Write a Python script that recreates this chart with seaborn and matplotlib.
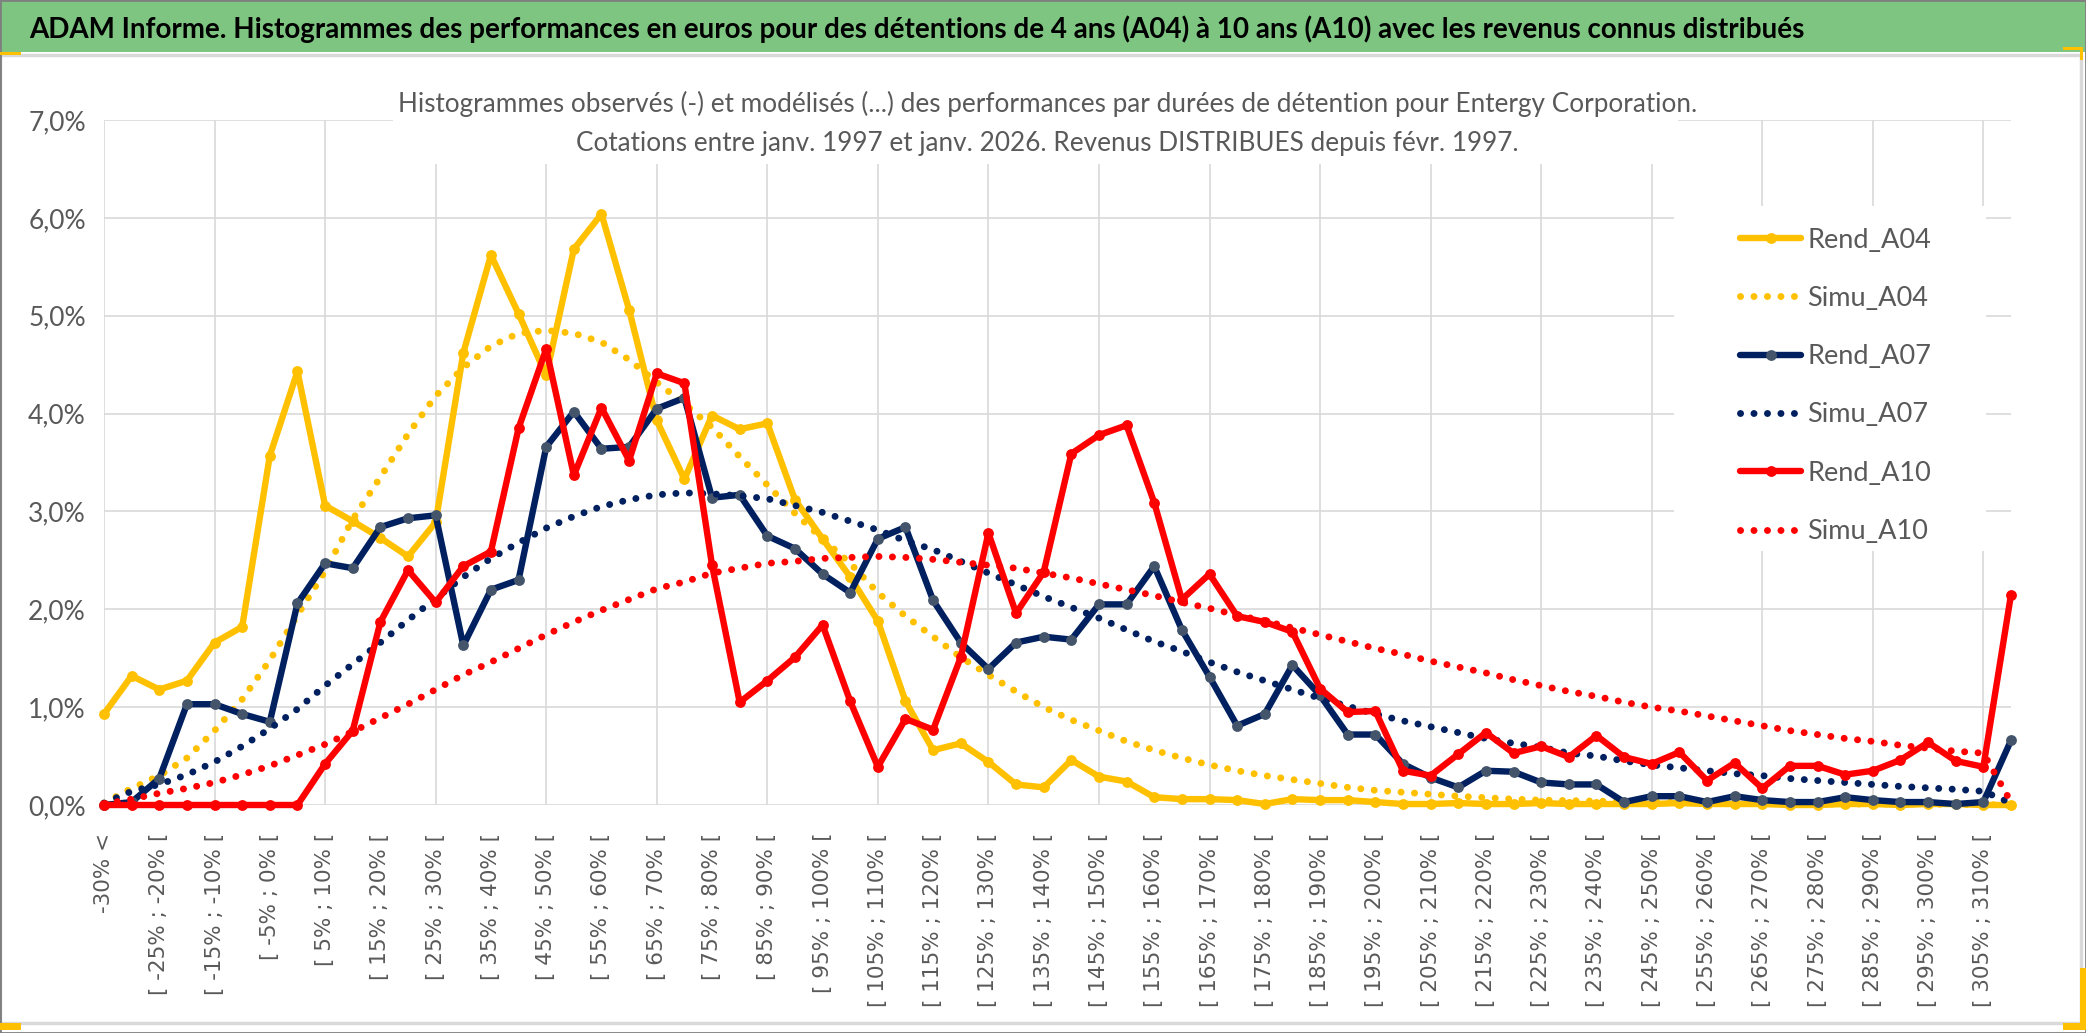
import matplotlib
matplotlib.use("Agg")
import matplotlib.pyplot as plt
from matplotlib.patches import Rectangle
import seaborn as sns
import numpy as np

# categories : classes de performance de 5 %
categories = ["-30% <"] + [f"[ {lo}% ; {lo + 5}% [" for lo in range(-30, 310, 5)] + ["> 310%"]
idx = np.arange(len(categories))

# frequences observees (%)
rend_a04 = [0.93, 1.32, 1.18, 1.27, 1.66, 1.82, 3.57, 4.43, 3.06, 2.90,
            2.73, 2.54, 2.89, 4.62, 5.62, 5.02, 4.39, 5.68, 6.04, 5.06,
            3.93, 3.33, 3.98, 3.84, 3.90, 3.12, 2.72, 2.33, 1.88, 1.06,
            0.56, 0.63, 0.44, 0.21, 0.18, 0.46, 0.29, 0.24, 0.08, 0.06,
            0.06, 0.05, 0.01, 0.06, 0.05, 0.05, 0.03, 0.01, 0.01, 0.02,
            0.01, 0.01, 0.02, 0.01, 0.01, 0.01, 0.01, 0.02, 0.01, 0.01,
            0.01, 0.00, 0.00, 0.01, 0.01, 0.00, 0.01, 0.01, 0.00, 0.00]
rend_a07 = [0.00, 0.03, 0.27, 1.03, 1.03, 0.93, 0.85, 2.06, 2.47, 2.42,
            2.84, 2.93, 2.96, 1.63, 2.20, 2.30, 3.66, 4.02, 3.64, 3.66,
            4.05, 4.16, 3.14, 3.17, 2.75, 2.62, 2.36, 2.17, 2.72, 2.84,
            2.09, 1.66, 1.39, 1.66, 1.72, 1.69, 2.05, 2.05, 2.44, 1.79,
            1.31, 0.81, 0.93, 1.43, 1.12, 0.72, 0.72, 0.42, 0.28, 0.18,
            0.35, 0.34, 0.23, 0.21, 0.21, 0.03, 0.09, 0.09, 0.03, 0.09,
            0.05, 0.03, 0.03, 0.08, 0.05, 0.03, 0.03, 0.01, 0.03, 0.66]
rend_a10 = [0.00, 0.00, 0.00, 0.00, 0.00, 0.00, 0.00, 0.00, 0.42, 0.76,
            1.87, 2.40, 2.07, 2.44, 2.59, 3.85, 4.66, 3.37, 4.06, 3.52,
            4.41, 4.31, 2.45, 1.05, 1.27, 1.51, 1.84, 1.06, 0.39, 0.88,
            0.77, 1.51, 2.78, 1.96, 2.38, 3.59, 3.78, 3.88, 3.09, 2.10,
            2.36, 1.93, 1.87, 1.77, 1.19, 0.95, 0.96, 0.35, 0.30, 0.52,
            0.74, 0.53, 0.60, 0.49, 0.71, 0.49, 0.42, 0.54, 0.25, 0.43,
            0.17, 0.40, 0.40, 0.31, 0.35, 0.46, 0.64, 0.45, 0.39, 2.15]

# frequences modelisees (%)
simu_a04 = [0.02, 0.17, 0.30, 0.48, 0.76, 1.08, 1.48, 1.94, 2.39, 2.92,
            3.35, 3.79, 4.18, 4.47, 4.69, 4.82, 4.85, 4.82, 4.73, 4.55,
            4.32, 4.10, 3.86, 3.56, 3.27, 2.98, 2.72, 2.47, 2.17, 1.93,
            1.72, 1.51, 1.33, 1.16, 1.00, 0.87, 0.76, 0.65, 0.56, 0.48,
            0.41, 0.35, 0.30, 0.26, 0.22, 0.18, 0.15, 0.13, 0.11, 0.09,
            0.075, 0.06, 0.05, 0.045, 0.04, 0.035, 0.03, 0.025, 0.02, 0.02,
            0.015, 0.015, 0.01, 0.01, 0.01, 0.01, 0.01, 0.005, 0.005, 0.0]
simu_a07 = [0.02, 0.14, 0.21, 0.31, 0.44, 0.60, 0.78, 0.98, 1.22, 1.44,
            1.66, 1.89, 2.11, 2.33, 2.52, 2.68, 2.83, 2.95, 3.05, 3.12,
            3.17, 3.19, 3.18, 3.16, 3.13, 3.06, 2.99, 2.90, 2.81, 2.70,
            2.61, 2.49, 2.37, 2.25, 2.13, 2.02, 1.91, 1.79, 1.67, 1.57,
            1.46, 1.36, 1.27, 1.18, 1.09, 1.01, 0.93, 0.86, 0.80, 0.74,
            0.68, 0.63, 0.59, 0.53, 0.50, 0.45, 0.41, 0.38, 0.35, 0.32,
            0.30, 0.27, 0.25, 0.23, 0.21, 0.19, 0.175, 0.16, 0.14, 0.02]
simu_a10 = [0.01, 0.06, 0.12, 0.17, 0.23, 0.31, 0.40, 0.51, 0.62, 0.75,
            0.89, 1.03, 1.18, 1.33, 1.46, 1.60, 1.74, 1.87, 1.99, 2.10,
            2.21, 2.28, 2.37, 2.42, 2.47, 2.49, 2.52, 2.53, 2.54, 2.53,
            2.51, 2.48, 2.45, 2.42, 2.37, 2.32, 2.26, 2.20, 2.14, 2.07,
            2.01, 1.94, 1.88, 1.81, 1.74, 1.67, 1.60, 1.54, 1.47, 1.41,
            1.35, 1.28, 1.22, 1.16, 1.11, 1.05, 1.00, 0.96, 0.91, 0.86,
            0.81, 0.76, 0.72, 0.68, 0.65, 0.61, 0.58, 0.55, 0.53, 0.03]

yticks = list(range(8))
ytick_labels = [f"{v},0%" for v in yticks]

YELLOW, NAVY, RED = "#FFC000", "#002060", "#FF0000"
GREY_TXT, GRID = "#595959", "#D9D9D9"

sns.set_style("white")
plt.rcParams["font.family"] = ["Lato", "DejaVu Sans"]

W, H = 2086, 1033
fig = plt.figure(figsize=(W / 100, H / 100), dpi=100)
ax = fig.add_axes([104 / W, 1 - 805 / H, (2011 - 104) / W, (805 - 120) / H])

series = [
    ("Rend_A04", rend_a04, YELLOW, YELLOW, True),
    ("Simu_A04", simu_a04, YELLOW, None, False),
    ("Rend_A07", rend_a07, NAVY, "#44546A", True),
    ("Simu_A07", simu_a07, NAVY, None, False),
    ("Rend_A10", rend_a10, RED, RED, True),
    ("Simu_A10", simu_a10, RED, None, False),
]
for name, vals, col, mcol, solid in series:
    if solid:
        sns.lineplot(x=idx, y=vals, ax=ax, color=col, lw=4.6, marker="o", ms=7.8,
                     mfc=mcol, mec=mcol, mew=0, label=name, clip_on=False,
                     solid_joinstyle="round")
    else:
        sns.lineplot(x=idx, y=vals, ax=ax, color=col, lw=5.0, linestyle=(0, (0.01, 1.93)),
                     dash_capstyle="round", label=name, clip_on=False)

ax.set_xlim(0, len(categories) - 1)
ax.set_ylim(0, 7)
ax.set_yticks(yticks, labels=ytick_labels)
major = list(range(0, len(categories) - 1, 4))
minor = list(range(2, len(categories) - 1, 4))
ax.set_xticks(major, labels=[categories[i] for i in major], rotation=90,
              fontfamily="DejaVu Sans")
ax.set_xticks(minor, labels=[categories[i] for i in minor], rotation=90,
              fontfamily="DejaVu Sans", minor=True)
ax.tick_params(axis="x", which="major", length=5, width=1.1, color=GRID, pad=15,
               labelsize=15.5, labelcolor=GREY_TXT)
ax.tick_params(axis="x", which="minor", length=0, pad=20, labelsize=15.5, labelcolor=GREY_TXT)
ax.tick_params(axis="y", length=0, pad=13, labelsize=19, labelcolor=GREY_TXT)
ax.set_axisbelow(True)
ax.grid(True, axis="y", color=GRID, lw=1.2)
ax.grid(True, axis="x", which="major", color=GRID, lw=1.2)
for s in ax.spines.values():
    s.set_visible(False)
ax.set_xlabel("")
ax.set_ylabel("")

# fond blanc de la legende
ax.add_patch(Rectangle((56.8, 2.60), 11.3, 3.52, facecolor="white", edgecolor="none", zorder=1))
handles, labels = ax.get_legend_handles_labels()
ax.legend(handles, labels, loc="upper left", bbox_to_anchor=(59.2 / 69, 0.843), frameon=False,
          fontsize=19.5, labelcolor=GREY_TXT, handlelength=2.25, handletextpad=0.22,
          labelspacing=1.23, borderpad=0, borderaxespad=0)

# cadre, bandeau et titres
fig.add_artist(Rectangle((0, 1 - 52 / H), 1, 52 / H, transform=fig.transFigure,
                         facecolor="#7DC580", edgecolor="none", zorder=0))
fig.add_artist(Rectangle((0, 1 - 1023 / H), 2081 / W, (1023 - 55) / H, transform=fig.transFigure,
                         facecolor="none", edgecolor=GRID, lw=2.5, zorder=1))
fig.add_artist(Rectangle((393 / W, 1 - 164 / H), (1678 - 393) / W, (164 - 62) / H,
                         transform=fig.transFigure, facecolor="white", edgecolor="none", zorder=1))
fig.add_artist(Rectangle((0, 0), 1, 1, transform=fig.transFigure, facecolor="none",
                         edgecolor="#7F7F7F", lw=2, zorder=5))
for (x0, y0, x1, y1) in [(0, 52, 21, 55), (0, 1023, 21, 1030), (2063, 1023, 2086, 1030),
                         (2080, 968, 2086, 1030), (2063, 47, 2083, 50), (2080, 47, 2083, 60)]:
    fig.add_artist(Rectangle((x0 / W, 1 - y1 / H), (x1 - x0) / W, (y1 - y0) / H,
                             transform=fig.transFigure, facecolor=YELLOW, edgecolor="none", zorder=6))

fig.text(29 / W, 1 - 38 / H,
         "ADAM Informe. Histogrammes des performances en euros pour des détentions de 4 ans (A04) "
         "à 10 ans (A10) avec les revenus connus distribués",
         fontsize=20, fontweight="bold", color="black", ha="left", va="baseline", zorder=3)
fig.text(0.502, 1 - 112 / H,
         "Histogrammes observés (-) et modélisés (...) des performances par durées de détention "
         "pour Entergy Corporation.",
         fontsize=18.8, color=GREY_TXT, ha="center", va="baseline", zorder=3)
fig.text(0.502, 1 - 151 / H,
         "Cotations entre janv. 1997 et janv. 2026. Revenus DISTRIBUES depuis févr. 1997.",
         fontsize=18.8, color=GREY_TXT, ha="center", va="baseline", zorder=3)

fig.savefig("out.png", dpi=100)
